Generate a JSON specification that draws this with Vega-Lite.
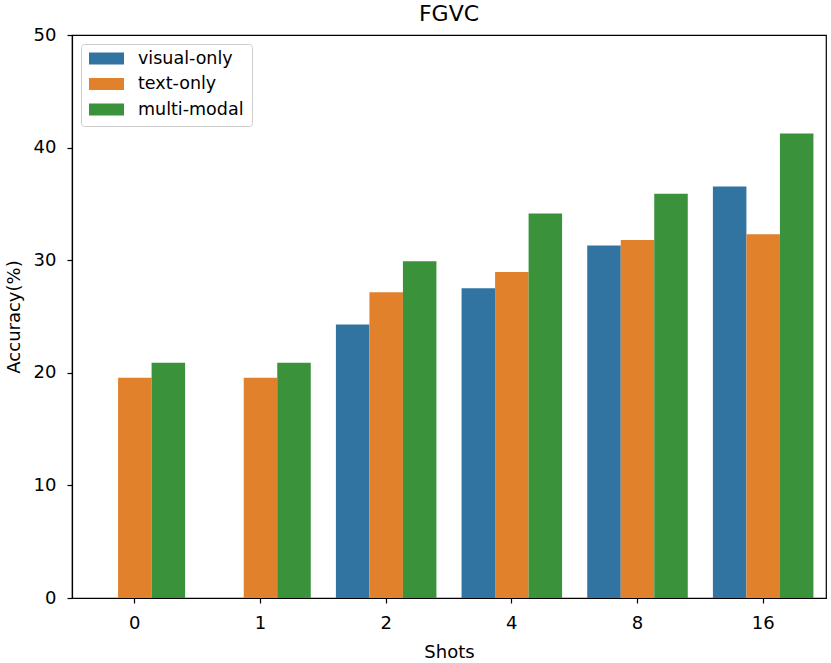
{
  "$schema": "https://vega.github.io/schema/vega-lite/v6.json",
  "width": 754,
  "height": 563,
  "autosize": {"type": "none"},
  "padding": {"left": 72, "top": 35, "right": 5, "bottom": 65},
  "title": {"text": "FGVC", "fontSize": 22, "font": "DejaVu Sans", "fontWeight": "normal", "baseline": "bottom", "offset": 7, "dy": 29, "color": "black"},
  "config": {
    "font": "DejaVu Sans",
    "view": {"stroke": "black", "strokeWidth": 1.2},
    "axis": {
      "domainColor": "black", "tickColor": "black", "labelColor": "black", "titleColor": "black",
      "labelFontSize": 18, "titleFontSize": 18, "titleFontWeight": "normal",
      "tickSize": 5, "domainWidth": 1.2, "tickWidth": 1.2, "grid": false, "labelFont": "DejaVu Sans", "titleFont": "DejaVu Sans"
    }
  },
  "data": {"values": [
    {"shots": "0", "model": "text-only", "acc": 19.55},
    {"shots": "0", "model": "multi-modal", "acc": 20.9},
    {"shots": "1", "model": "text-only", "acc": 19.55},
    {"shots": "1", "model": "multi-modal", "acc": 20.9},
    {"shots": "2", "model": "visual-only", "acc": 24.3},
    {"shots": "2", "model": "text-only", "acc": 27.15},
    {"shots": "2", "model": "multi-modal", "acc": 29.9},
    {"shots": "4", "model": "visual-only", "acc": 27.5},
    {"shots": "4", "model": "text-only", "acc": 28.95},
    {"shots": "4", "model": "multi-modal", "acc": 34.15},
    {"shots": "8", "model": "visual-only", "acc": 31.3},
    {"shots": "8", "model": "text-only", "acc": 31.8},
    {"shots": "8", "model": "multi-modal", "acc": 35.9},
    {"shots": "16", "model": "visual-only", "acc": 36.55},
    {"shots": "16", "model": "text-only", "acc": 32.3},
    {"shots": "16", "model": "multi-modal", "acc": 41.25}
  ]},
  "mark": {"type": "bar"},
  "encoding": {
    "x": {
      "field": "shots", "type": "nominal",
      "scale": {"domain": ["0", "1", "2", "4", "8", "16"], "paddingInner": 0.2, "paddingOuter": 0.1},
      "axis": {"labelAngle": 0, "title": "Shots", "labelPadding": 11, "titlePadding": 11}
    },
    "xOffset": {
      "field": "model", "type": "nominal",
      "scale": {"domain": ["visual-only", "text-only", "multi-modal"], "paddingInner": 0, "paddingOuter": 0}
    },
    "y": {
      "field": "acc", "type": "quantitative",
      "scale": {"domain": [0, 50], "nice": false},
      "axis": {"values": [0, 10, 20, 30, 40, 50], "title": "Accuracy(%)", "labelPadding": 11, "titlePadding": 10}
    },
    "color": {
      "field": "model", "type": "nominal",
      "scale": {"domain": ["visual-only", "text-only", "multi-modal"], "range": ["#3274a1", "#e1812c", "#3a923a"]},
      "legend": {
        "title": null, "orient": "top-left", "offset": 9,
        "symbolType": "M-1,-0.343H1V0.343H-1Z", "symbolSize": 1225, "symbolStrokeWidth": 0, "symbolOpacity": 1,
        "labelFontSize": 17.5, "labelFont": "DejaVu Sans", "labelColor": "black", "labelOffset": 14,
        "padding": 8, "strokeColor": "#cccccc", "fillColor": "rgba(255,255,255,0.8)", "cornerRadius": 3,
        "clipHeight": 13, "rowPadding": 7.5
      }
    }
  }
}
